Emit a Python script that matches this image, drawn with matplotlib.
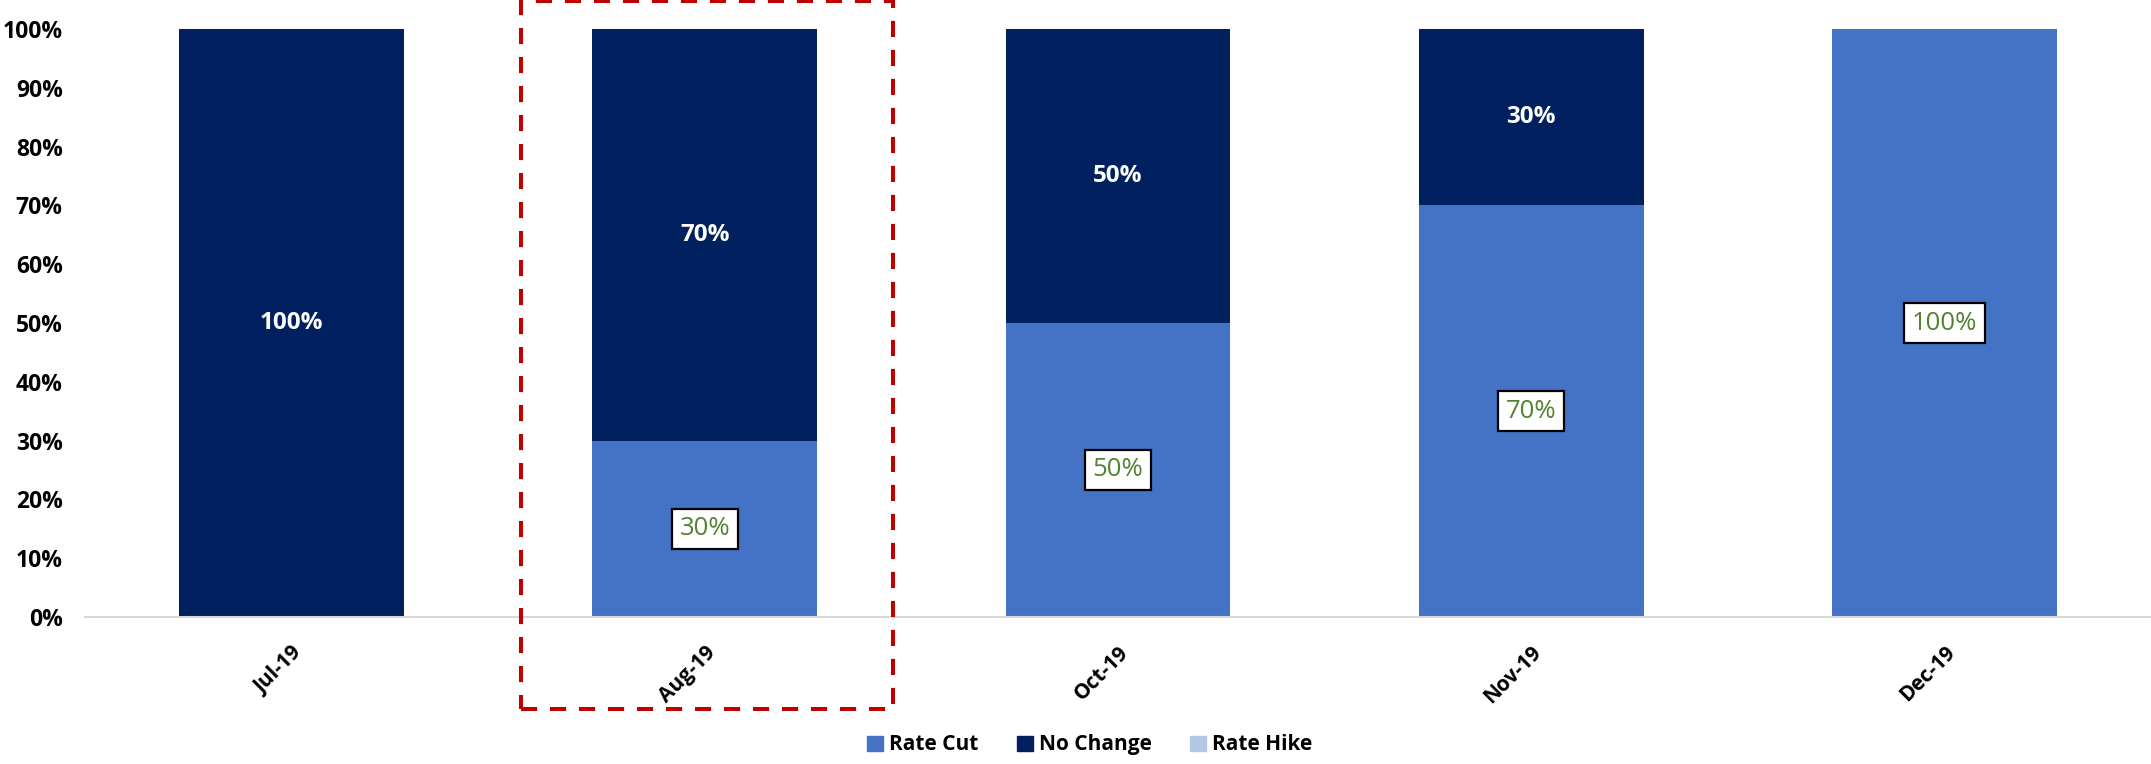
import matplotlib
matplotlib.use("Agg")
import matplotlib.pyplot as plt
from matplotlib.patches import Patch, Rectangle
import numpy as np

categories = ["Jul-19", "Aug-19", "Oct-19", "Nov-19", "Dec-19"]
rate_cut = [0, 30, 50, 70, 100]
no_change = [100, 70, 50, 30, 0]
rate_hike = [0, 0, 0, 0, 0]
series_names = ["Rate Cut", "No Change", "Rate Hike"]
y_ticks = [0, 10, 20, 30, 40, 50, 60, 70, 80, 90, 100]

c_cut = "#4472C4"
c_nochg = "#002060"
c_hike = "#B4C7E7"

plt.rcParams['font.family'] = ['Open Sans', 'DejaVu Sans']

fig = plt.figure(figsize=(21.51, 7.64), dpi=100)
ax = fig.add_axes([85/2151, 1-617/764, 1-85/2151, (617-29)/764])

x = np.arange(len(categories))
w = 0.544
cut = np.array(rate_cut, float)
nc = np.array(no_change, float)
hk = np.array(rate_hike, float)
ax.bar(x, cut, w, color=c_cut, zorder=2)
ax.bar(x, nc, w, bottom=cut, color=c_nochg, zorder=2)
ax.bar(x, hk, w, bottom=cut+nc, color=c_hike, zorder=2)

for i in range(len(x)):
    if cut[i] > 0:
        ax.text(x[i], cut[i]/2, f"{int(cut[i])}%", ha='center', va='center',
                fontsize=18.5, color="#548235", zorder=5,
                bbox=dict(boxstyle='square,pad=0.3', fc='white', ec='black', lw=1.6))
    if nc[i] > 0:
        ax.text(x[i], cut[i] + nc[i]/2, f"{int(nc[i])}%", ha='center', va='center',
                fontsize=17.5, color="white", fontweight='bold', zorder=5)

ax.set_xlim(-0.5, len(categories)-0.5)
ax.set_ylim(0, 100)
ax.set_yticks(y_ticks)
ax.set_yticklabels([f"{t}%" for t in y_ticks], fontsize=16.5, fontweight='bold')
ax.set_xticks(x)
ax.set_xticklabels(categories, rotation=45, ha='right', va='top', rotation_mode='anchor',
                   fontsize=15, fontweight='bold')
ax.tick_params(axis='y', length=0, pad=16)
ax.tick_params(axis='x', length=0, pad=18)
for s in ['top', 'right', 'left']:
    ax.spines[s].set_visible(False)
ax.spines['bottom'].set_color('#D9D9D9')
ax.spines['bottom'].set_linewidth(1.5)

# highlight box around Aug-19
rect = Rectangle((1-0.446, -15.6), 0.902, 120.4, fill=False, ec='#C00000', lw=2.9,
                 linestyle=(0, (4, 3.2)), clip_on=False, zorder=6)
ax.add_patch(rect)

handles = [Patch(color=c_cut), Patch(color=c_nochg), Patch(color=c_hike)]
leg = fig.legend(handles, series_names, loc='center', bbox_to_anchor=(1090/2151, 0.025),
                 ncol=3, frameon=False, prop={'size': 15, 'weight': 'bold'},
                 handlelength=0.75, handleheight=0.75, handletextpad=0.3, columnspacing=1.85)

fig.savefig("out.png", dpi=100)
